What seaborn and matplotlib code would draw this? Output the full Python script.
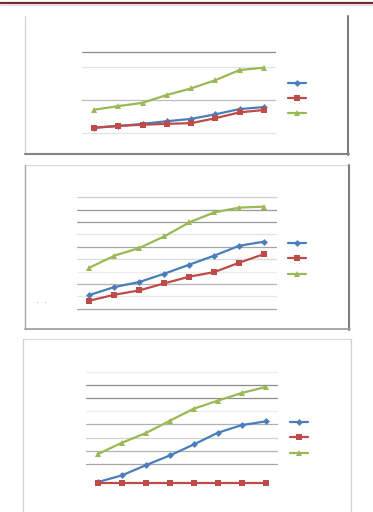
import numpy as np
import pandas as pd
import matplotlib
matplotlib.use("Agg")
import matplotlib.pyplot as plt
import seaborn as sns
from matplotlib.lines import Line2D

sns.set_theme(style="white")

# ---------------- data ----------------
categories = [1, 2, 3, 4, 5, 6, 7, 8]
series_names = ["A", "B", "C"]

p1_blue = [0.16, 0.21, 0.28, 0.36, 0.43, 0.57, 0.73, 0.79]
p1_red = [0.16, 0.22, 0.25, 0.28, 0.30, 0.45, 0.63, 0.70]
p1_green = [0.71, 0.82, 0.92, 1.16, 1.36, 1.61, 1.92, 1.99]

p2_blue = [1.11, 1.75, 2.16, 2.83, 3.56, 4.29, 5.09, 5.42]
p2_red = [0.65, 1.13, 1.48, 2.05, 2.59, 2.96, 3.72, 4.42]
p2_green = [3.32, 4.29, 4.91, 5.85, 6.98, 7.79, 8.17, 8.25]

p3_blue = [0.05, 0.56, 1.34, 2.08, 2.92, 3.81, 4.40, 4.68]
p3_red = [0.0, 0.0, 0.0, 0.0, 0.0, 0.0, 0.0, 0.0]
p3_green = [2.19, 3.05, 3.79, 4.73, 5.65, 6.26, 6.85, 7.31]

colors = {"A": "#4A7EBB", "B": "#BE4B48", "C": "#98B954"}
markers = {"A": "D", "B": "s", "C": "^"}
msizes = {"A": 3.5, "B": 5.0, "C": 5.0}

W, H = 373, 512
fig = plt.figure(figsize=(W / 100, H / 100), dpi=100)
fig.patch.set_facecolor("white")

# overlay axes in pixel coordinates for decorations
ov = fig.add_axes([0, 0, 1, 1], zorder=0)
ov.set_xlim(0, W)
ov.set_ylim(H, 0)
ov.axis("off")


def make_df(b, r, g):
    rows = []
    for name, vals in zip(series_names, [b, r, g]):
        for i, v in enumerate(vals):
            rows.append({"x": i, "y": v, "series": name})
    return pd.DataFrame(rows)


def panel(x0, x1, y_zero, unit, ylo, yhi, b, r, g, grid_vals, grid_cols):
    ytop = y_zero - yhi * unit
    ybot = y_zero - ylo * unit
    ax = fig.add_axes([x0 / W, 1 - ybot / H, (x1 - x0) / W, (ybot - ytop) / H], zorder=2)
    ax.patch.set_alpha(0)
    for gv, gc in zip(grid_vals, grid_cols):
        ax.axhline(gv, color=gc, lw=0.9, zorder=0)
    df = make_df(b, r, g)
    for name in series_names:
        sub = df[df.series == name]
        sns.lineplot(data=sub, x="x", y="y", ax=ax, color=colors[name],
                     marker=markers[name], markersize=msizes[name],
                     markeredgewidth=0, linewidth=1.6, legend=False,
                     clip_on=False, zorder=3)
    ax.set_xlim(-0.5, len(categories) - 0.5)
    ax.set_ylim(ylo, yhi)
    ax.set_xticks([])
    ax.set_yticks([])
    ax.set_xlabel("")
    ax.set_ylabel("")
    for s in ax.spines.values():
        s.set_visible(False)
    return ax


def legend_keys(xa, xb, ys):
    for name, yy in zip(series_names, ys):
        ov.add_line(Line2D([xa, xb], [yy, yy], color=colors[name], lw=1.6))
        ov.plot([(xa + xb) / 2], [yy], marker=markers[name], color=colors[name],
                markersize=msizes[name], markeredgewidth=0)


# header rule
ov.add_line(Line2D([0, W], [2.7, 2.7], color="#6E2B2B", lw=1.6))
ov.add_line(Line2D([0, W], [4.6, 4.6], color="#E6D3D3", lw=0.8))

# ---- panel 1 ----
ov.add_line(Line2D([25, 25], [16, 154], color="#D0D0D0", lw=0.9))
ov.add_line(Line2D([348.3, 348.3], [16, 155], color="#7F7F7F", lw=1.5))
ov.add_line(Line2D([25, 349], [154.3, 154.3], color="#858585", lw=1.5))
panel(82, 276, 133, 32.8, -0.3, 2.6, p1_blue, p1_red, p1_green,
      [0, 1, 2, 2.48], ["#E3E3E3", "#BDBDBD", "#E3E3E3", "#8A8A8A"])
legend_keys(288, 306, [82.7, 98, 113.3])

# ---- panel 2 ----
ov.add_line(Line2D([25, 349], [164.5, 164.5], color="#DCDCDC", lw=0.9))
ov.add_line(Line2D([24.5, 24.5], [164.5, 329], color="#A6A6A6", lw=1.0))
ov.add_line(Line2D([349.3, 349.3], [164.5, 330], color="#7F7F7F", lw=1.5))
ov.add_line(Line2D([24.5, 350], [329, 329], color="#999999", lw=1.2))
panel(77, 276.7, 308.7, 12.37, -0.5, 9.5, p2_blue, p2_red, p2_green,
      list(range(10)),
      ["#A6A6A6", "#E6E6E6", "#B3B3B3", "#ECECEC", "#DADADA",
       "#A6A6A6", "#E3E3E3", "#999999", "#999999", "#CFCFCF"])
legend_keys(288, 306, [242.7, 258.3, 273.7])
ov.plot([36.7, 45], [302.3, 302.3], "s", color="#BBBBBB", markersize=0.8, markeredgewidth=0)

# ---- panel 3 ----
ov.add_line(Line2D([23, 351], [339.3, 339.3], color="#D9D9D9", lw=0.9))
ov.add_line(Line2D([22.7, 22.7], [339.3, 512], color="#D0D0D0", lw=0.9))
ov.add_line(Line2D([351, 351], [339.3, 512], color="#D0D0D0", lw=0.9))
panel(86, 277.7, 482.7, 13.1, -0.5, 9.0, p3_blue, p3_red, p3_green,
      [1.43, 2.43, 3.41, 4.48, 5.47, 6.49, 7.46, 8.45],
      ["#A6A6A6", "#B3B3B3", "#D0D0D0", "#B0B0B0", "#EEEEEE",
       "#8C8C8C", "#8C8C8C", "#EEEEEE"])
legend_keys(290, 308, [422, 437.3, 452.7])

fig.savefig("out.png", dpi=100, facecolor="white")
